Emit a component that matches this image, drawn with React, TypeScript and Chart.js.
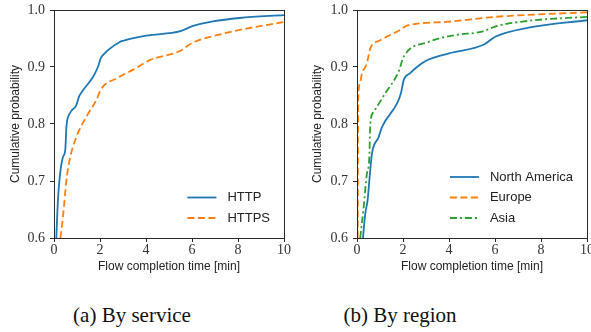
import React, { useEffect, useRef } from "react";
import { Chart, registerables } from "chart.js";

Chart.register(...registerables);

// ---------- Data (a) By service ----------
const httpX = [0.1, 0.17, 0.25, 0.39, 0.49, 0.54, 0.68, 0.97, 1.09, 1.26, 1.7, 1.91, 2.03, 2.13, 2.86, 3.0, 4.0, 5.5, 6.04, 6.91, 8.07, 10];
const httpY = [0.6, 0.666, 0.707, 0.742, 0.754, 0.795, 0.818, 0.833, 0.848, 0.859, 0.883, 0.9, 0.915, 0.921, 0.944, 0.946, 0.955, 0.963, 0.972, 0.98, 0.986, 0.991];
const httpsX = [0.28, 0.39, 0.54, 0.68, 0.97, 1.41, 1.84, 2.06, 2.71, 3.43, 4.16, 5.47, 6.04, 6.91, 8.07, 10];
const httpsY = [0.6, 0.637, 0.701, 0.737, 0.777, 0.813, 0.842, 0.862, 0.88, 0.895, 0.912, 0.928, 0.943, 0.954, 0.965, 0.979];

// ---------- Data (b) By region ----------
const naX = [0.26, 0.36, 0.46, 0.55, 0.65, 0.94, 1.09, 1.74, 1.91, 2.03, 2.3, 2.61, 3.0, 4.0, 5.5, 6.01, 7.46, 10];
const naY = [0.6, 0.643, 0.666, 0.707, 0.748, 0.777, 0.795, 0.836, 0.854, 0.877, 0.889, 0.9, 0.911, 0.924, 0.939, 0.953, 0.969, 0.982];
const euX = [0.03, 0.05, 0.12, 0.22, 0.36, 0.45, 0.58, 1.01, 1.88, 2.2, 3.84, 6.01, 10];
const euY = [0.6, 0.84, 0.87, 0.89, 0.9, 0.91, 0.933, 0.947, 0.965, 0.973, 0.979, 0.988, 0.996];
const asiaX = [0.14, 0.29, 0.43, 0.53, 0.58, 0.72, 1.23, 1.81, 2.03, 3.11, 4.27, 5.43, 6.01, 7.46, 10];
const asiaY = [0.6, 0.654, 0.713, 0.737, 0.801, 0.821, 0.854, 0.892, 0.918, 0.944, 0.956, 0.962, 0.971, 0.981, 0.988];

const xTicks = [0, 2, 4, 6, 8, 10];
const yTicks = [0.6, 0.7, 0.8, 0.9, 1.0];

const BLUE = "#1f77b4";
const ORANGE = "#ff7f0e";
const GREEN = "#2ca02c";
const AXIS = "#2a2a2a";

const pts = (xs: number[], ys: number[]) => xs.map((x, i) => ({ x, y: ys[i] }));

const framePlugin = {
  id: "frameBox",
  afterDatasetsDraw(chart: any) {
    const { ctx, chartArea } = chart;
    ctx.save();
    ctx.strokeStyle = AXIS;
    ctx.lineWidth = 1;
    ctx.setLineDash([]);
    const l = Math.round(chartArea.left) + 0.5;
    const t = Math.round(chartArea.top) + 0.5;
    const r = Math.round(chartArea.right) + 0.5;
    const b = Math.round(chartArea.bottom) + 0.5;
    ctx.strokeRect(l, t, r - l, b - t);
    ctx.restore();
  },
};

const legendPlugin = {
  id: "cdfLegend",
  afterDraw(chart: any) {
    const { ctx, chartArea } = chart;
    const items = chart.data.datasets;
    ctx.save();
    ctx.font = '13px "Liberation Sans"';
    const maxW = Math.max(...items.map((d: any) => ctx.measureText(d.label).width));
    const textX = chartArea.right - 14 - maxW;
    const lineEnd = textX - 11;
    const lineStart = lineEnd - 29;
    items.forEach((d: any, i: number) => {
      const y = chartArea.bottom - 20 - (items.length - 1 - i) * 20.5;
      ctx.strokeStyle = d.borderColor;
      ctx.lineWidth = d.borderWidth;
      ctx.setLineDash(d.borderDash || []);
      ctx.beginPath();
      ctx.moveTo(lineStart, y);
      ctx.lineTo(lineEnd, y);
      ctx.stroke();
      ctx.setLineDash([]);
      ctx.fillStyle = "#222";
      ctx.textBaseline = "middle";
      ctx.textAlign = "left";
      ctx.fillText(d.label, textX, y);
    });
    ctx.restore();
  },
};

type Series = { label: string; xs: number[]; ys: number[]; color: string; dash: number[] };

function CdfChart(props: {
  series: Series[];
  left: number;
  width: number;
  height: number;
  yAxisWidth: number;
  padRight: number;
  yTitlePad: number;
}) {
  const ref = useRef<HTMLCanvasElement | null>(null);
  useEffect(() => {
    if (!ref.current) return;
    const chart = new Chart(ref.current, {
      type: "line",
      data: {
        datasets: props.series.map((s) => ({
          label: s.label,
          data: pts(s.xs, s.ys),
          borderColor: s.color,
          backgroundColor: s.color,
          borderWidth: 1.8,
          borderDash: s.dash,
          pointRadius: 0,
          fill: false,
          cubicInterpolationMode: "monotone" as const,
        })),
      },
      options: {
        animation: false,
        responsive: false,
        maintainAspectRatio: false,
        layout: { padding: { top: 10, right: props.padRight, bottom: 0, left: 0 } },
        plugins: { legend: { display: false }, tooltip: { enabled: false } },
        scales: {
          x: {
            type: "linear",
            min: 0,
            max: 10,
            afterBuildTicks: (s: any) => {
              s.ticks = xTicks.map((v) => ({ value: v }));
            },
            afterFit: (s: any) => {
              s.height = props.height - 238;
              s.paddingLeft = 0;
              s.paddingRight = 0;
            },
            grid: { drawOnChartArea: false, drawTicks: true, tickLength: 4, color: AXIS, tickWidth: 1 },
            border: { display: false },
            ticks: {
              padding: 0,
              color: "#333",
              maxRotation: 0,
              autoSkip: false,
              font: { family: '"Liberation Serif"', size: 14 },
              callback: (v: any) => String(v),
            },
            title: {
              display: true,
              text: "Flow completion time [min]",
              color: "#222",
              font: { family: '"Liberation Sans"', size: 12 },
              padding: { top: 0, bottom: 11 },
            },
          },
          y: {
            type: "linear",
            min: 0.6,
            max: 1.0,
            afterBuildTicks: (s: any) => {
              s.ticks = yTicks.map((v) => ({ value: v }));
            },
            afterFit: (s: any) => {
              s.width = props.yAxisWidth;
              s.paddingTop = 0;
              s.paddingBottom = 0;
            },
            grid: { drawOnChartArea: false, drawTicks: true, tickLength: 4, color: AXIS, tickWidth: 1 },
            border: { display: false },
            ticks: {
              padding: 5,
              color: "#333",
              autoSkip: false,
              font: { family: '"Liberation Serif"', size: 14 },
              callback: (v: any) => Number(v).toFixed(1),
            },
            title: {
              display: true,
              text: "Cumulative probability",
              color: "#222",
              font: { family: '"Liberation Sans"', size: 12 },
              padding: { top: props.yTitlePad, bottom: 0 },
            },
          },
        },
      },
      plugins: [framePlugin, legendPlugin],
    } as any);
    return () => chart.destroy();
  }, []);
  return (
    <canvas
      ref={ref}
      width={props.width}
      height={props.height}
      style={{ position: "absolute", left: props.left, top: 0, width: props.width, height: props.height }}
    />
  );
}

const captionStyle: React.CSSProperties = {
  position: "absolute",
  top: 303,
  width: 220,
  textAlign: "center",
  fontFamily: '"Liberation Serif", serif',
  fontSize: 21,
  lineHeight: "24px",
  color: "#111",
  whiteSpace: "nowrap",
};

export default function App() {
  const serviceSeries: Series[] = [
    { label: "HTTP", xs: httpX, ys: httpY, color: BLUE, dash: [] },
    { label: "HTTPS", xs: httpsX, ys: httpsY, color: ORANGE, dash: [7, 3.5] },
  ];
  const regionSeries: Series[] = [
    { label: "North America", xs: naX, ys: naY, color: BLUE, dash: [] },
    { label: "Europe", xs: euX, ys: euY, color: ORANGE, dash: [7, 3.5] },
    { label: "Asia", xs: asiaX, ys: asiaY, color: GREEN, dash: [7, 3, 2, 3] },
  ];
  return (
    <div style={{ position: "absolute", left: 0, top: 0, width: 591, height: 332, background: "#fff", overflow: "hidden" }}>
      <CdfChart series={serviceSeries} left={0} width={295} height={285} yAxisWidth={54} padRight={11} yTitlePad={8} />
      <CdfChart series={regionSeries} left={296} width={295} height={285} yAxisWidth={61} padRight={4} yTitlePad={14} />
      <div style={{ ...captionStyle, left: 22 }}>(a) By service</div>
      <div style={{ ...captionStyle, left: 290 }}>(b) By region</div>
    </div>
  );
}
